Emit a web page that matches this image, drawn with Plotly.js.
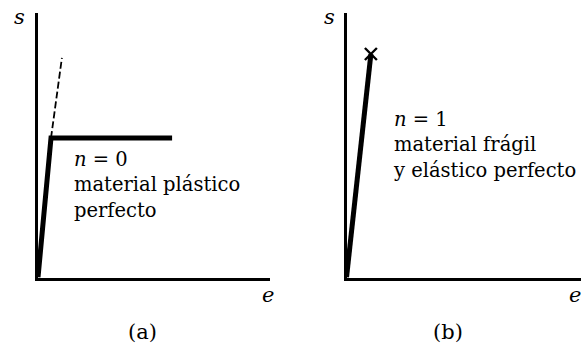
<!DOCTYPE html>
<html>
<head>
<meta charset="utf-8">
<script src="https://cdn.plot.ly/plotly-3.0.1.min.js"></script>
<style>
  html, body { margin: 0; padding: 0; background: #fff; }
  #chart { width: 581px; height: 352px; }
</style>
</head>
<body>
<div id="chart"></div>
<script>
// (a) perfectly plastic material, n = 0: strain e vs stress s
const plasticE = [0, 0.56, 5.78];
const plasticS = [0, 5.27, 5.27];
// elastic slope continued beyond yield (dashed)
const elasticExtE = [0.56, 1.03];
const elasticExtS = [5.27, 8.3];

// (b) brittle, perfectly elastic material, n = 1
const brittleE = [0, 1.04];
const brittleS = [0, 8.45];
// fracture point
const fractureE = [1.04];
const fractureS = [8.45];

const axisRange = [0, 10];
const panelLabels = ['(a)', '(b)'];
const curveNotes = [
  ['<i>n</i> = 0', 'material plástico', 'perfecto'],
  ['<i>n</i> = 1', 'material frágil', 'y elástico perfecto']
];

const W = 581, H = 352;
const px = x => x / W;
const py = y => 1 - y / H;
const serif = "'DejaVu Serif', 'Liberation Serif', serif";

const traces = [
  { x: plasticE, y: plasticS, xaxis: 'x', yaxis: 'y', mode: 'lines',
    line: { color: '#000', width: 5 }, hoverinfo: 'skip' },
  { x: elasticExtE, y: elasticExtS, xaxis: 'x', yaxis: 'y', mode: 'lines',
    line: { color: '#000', width: 1.8, dash: '7px,3px' }, hoverinfo: 'skip' },
  { x: brittleE, y: brittleS, xaxis: 'x2', yaxis: 'y2', mode: 'lines',
    line: { color: '#000', width: 5 }, hoverinfo: 'skip' },
  { x: fractureE, y: fractureS, xaxis: 'x2', yaxis: 'y2', mode: 'markers',
    marker: { symbol: 'x-thin', size: 12, line: { color: '#000', width: 2.4 } },
    cliponaxis: false, hoverinfo: 'skip' }
];

function axis(domain, anchor) {
  return {
    domain: domain, range: axisRange, anchor: anchor,
    showline: true, linecolor: '#000', linewidth: 3,
    showgrid: false, zeroline: false, showticklabels: false, ticks: '',
    fixedrange: true
  };
}

const yDomain = [(H - 277.5) / H, (H - 13) / H];

const annotations = [];
function note(text, x, y, size, xanchor) {
  annotations.push({
    text: text, xref: 'paper', yref: 'paper', x: px(x), y: py(y),
    xanchor: xanchor || 'center', yanchor: 'middle', align: 'left',
    showarrow: false,
    font: { family: serif, size: size, color: '#000' }
  });
}

// axis symbols
note('<i>s</i>', 20, 17, 21);
note('<i>e</i>', 268, 295, 21);
note('<i>s</i>', 329, 17, 21);
note('<i>e</i>', 575, 295, 21);

// panel captions
note(panelLabels[0], 142, 332, 21);
note(panelLabels[1], 448, 332, 21);

// curve descriptions
const noteX = [72, 391];
const noteY = [185, 145];
curveNotes.forEach((lines, i) => {
  note(lines.join('<br>'), noteX[i], noteY[i], 19.5, 'left');
});

const layout = {
  width: W, height: H,
  margin: { l: 0, r: 0, t: 0, b: 0, pad: 0 },
  paper_bgcolor: '#fff', plot_bgcolor: '#fff',
  showlegend: false,
  xaxis: axis([38 / W, 270 / W], 'y'),
  yaxis: axis(yDomain, 'x'),
  xaxis2: axis([346.5 / W, 1], 'y2'),
  yaxis2: axis(yDomain, 'x2'),
  annotations: annotations
};

Plotly.newPlot('chart', traces, layout, { staticPlot: true, displayModeBar: false });
</script>
</body>
</html>
